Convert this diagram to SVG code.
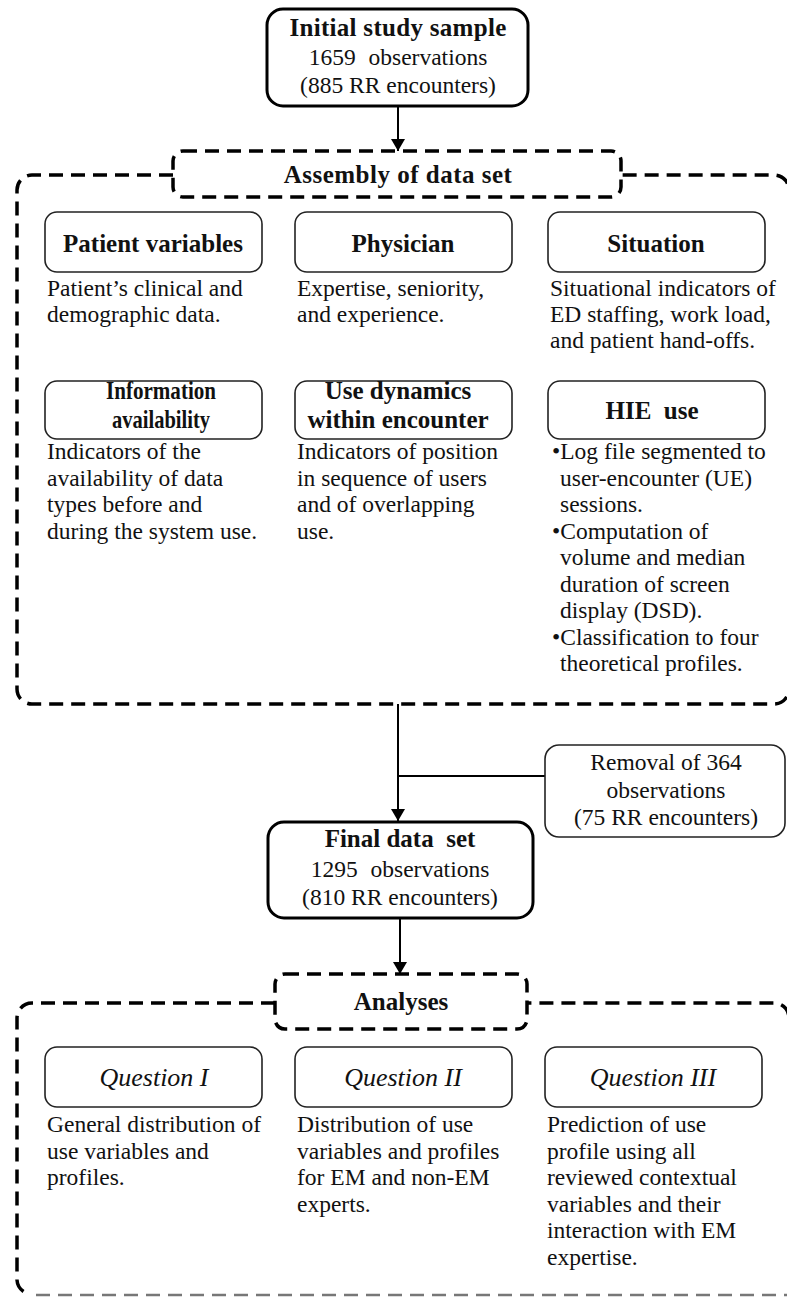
<svg xmlns="http://www.w3.org/2000/svg" width="787" height="1303" viewBox="0 0 787 1303">
<defs>
<marker id="ah" viewBox="0 0 12 14" refX="12" refY="7" markerWidth="12" markerHeight="14" markerUnits="userSpaceOnUse" orient="auto">
<path d="M0,0 L12,7 L0,14 Z" fill="#000"/>
</marker>
<style>
text{font-family:"Liberation Serif","Times New Roman",serif;fill:#111;}
.t{font-size:25px;font-weight:bold;text-anchor:middle;}
.r{font-size:23.5px;text-anchor:middle;}
.d{font-size:23.5px;}
.q{font-size:26px;font-style:italic;text-anchor:middle;}
.main{fill:#fff;stroke:#000;stroke-width:3;}
.sub{fill:#fff;stroke:#222;stroke-width:1.6;}
.dash{fill:none;stroke:#000;stroke-width:3.5;stroke-dasharray:14 8;}
.dashlab{fill:#fff;stroke:#000;stroke-width:3.5;stroke-dasharray:14 8;}
.dashfaint{fill:none;stroke:#777;stroke-width:2.5;stroke-dasharray:14 8;}
.line{fill:none;stroke:#000;stroke-width:2;}
</style>
</defs>
<rect width="787" height="1303" fill="#fff"/>

<g id="connectors">
<line class="line" x1="398" y1="106" x2="398" y2="151" marker-end="url(#ah)"/>
<line class="line" x1="398" y1="704" x2="398" y2="821" marker-end="url(#ah)"/>
<line class="line" x1="545" y1="776" x2="398" y2="776"/>
<line class="line" x1="400" y1="918" x2="400" y2="974" marker-end="url(#ah)"/>
</g>

<g id="initial">
<rect class="main" x="267" y="9" width="261" height="97" rx="16"/>
<text class="t" x="398" y="36" letter-spacing="0.3">Initial study sample</text>
<text class="r" x="398" y="65" word-spacing="7">1659 observations</text>
<text class="r" x="398" y="93">(885 RR encounters)</text>
</g>

<g id="assembly">
<path class="dash" d="M173,175 H32 A15,15 0 0 0 17,190 V689 A15,15 0 0 0 32,704 H774 A15,15 0 0 0 789,689 V190 A15,15 0 0 0 774,175 H621"/>
<rect class="dashlab" x="173" y="151" width="448" height="46" rx="10"/>
<text class="t" x="398" y="183" letter-spacing="0.5">Assembly of data set</text>
</g>

<g id="patient">
<rect class="sub" x="45" y="212" width="217" height="60" rx="12"/>
<text class="t" x="153" y="252">Patient variables</text>
<text class="d" x="47" y="296">Patient’s clinical and</text>
<text class="d" x="47" y="322">demographic data.</text>
</g>

<g id="physician">
<rect class="sub" x="295" y="212" width="217" height="60" rx="12"/>
<text class="t" x="403" y="252">Physician</text>
<text class="d" x="297" y="296">Expertise, seniority,</text>
<text class="d" x="297" y="322">and experience.</text>
</g>

<g id="situation">
<rect class="sub" x="548" y="212" width="217" height="60" rx="12"/>
<text class="t" x="656" y="252">Situation</text>
<text class="d" x="550" y="296" font-size="24">Situational indicators of</text>
<text class="d" x="550" y="322" font-size="24">ED staffing, work load,</text>
<text class="d" x="550" y="348" font-size="24">and patient hand-offs.</text>
</g>

<g id="information">
<rect class="sub" x="45" y="381" width="217" height="58" rx="12"/>
<text class="t" x="161" y="399" font-size="24" textLength="110" lengthAdjust="spacingAndGlyphs">Information</text>
<text class="t" x="161" y="428" font-size="24" textLength="98" lengthAdjust="spacingAndGlyphs">availability</text>
<text class="d" x="47" y="459">Indicators of the</text>
<text class="d" x="47" y="485.5">availability of data</text>
<text class="d" x="47" y="512">types before and</text>
<text class="d" x="47" y="538.5">during the system use.</text>
</g>

<g id="dynamics">
<rect class="sub" x="295" y="381" width="217" height="58" rx="12"/>
<text class="t" x="398" y="399">Use dynamics</text>
<text class="t" x="398" y="428">within encounter</text>
<text class="d" x="297" y="459">Indicators of position</text>
<text class="d" x="297" y="485.5">in sequence of users</text>
<text class="d" x="297" y="512">and of overlapping</text>
<text class="d" x="297" y="538.5">use.</text>
</g>

<g id="hie">
<rect class="sub" x="548" y="381" width="217" height="58" rx="12"/>
<text class="t" x="652" y="419" xml:space="preserve">HIE  use</text>
<text class="d" x="552" y="459">•Log file segmented to</text>
<text class="d" x="560" y="485.5">user-encounter (UE)</text>
<text class="d" x="560" y="512">sessions.</text>
<text class="d" x="552" y="538.5">•Computation of</text>
<text class="d" x="560" y="565">volume and median</text>
<text class="d" x="560" y="591.5">duration of screen</text>
<text class="d" x="560" y="618">display (DSD).</text>
<text class="d" x="552" y="644.5">•Classification to four</text>
<text class="d" x="560" y="671">theoretical profiles.</text>
</g>

<g id="removal">
<rect class="sub" x="545" y="745" width="240" height="92" rx="14"/>
<text class="r" x="666" y="770">Removal of 364</text>
<text class="r" x="666" y="798">observations</text>
<text class="r" x="666" y="825">(75 RR encounters)</text>
</g>

<g id="final">
<rect class="main" x="268" y="822" width="265" height="96" rx="16"/>
<text class="t" x="400" y="847" xml:space="preserve">Final data  set</text>
<text class="r" x="400" y="877" word-spacing="7">1295 observations</text>
<text class="r" x="400" y="905">(810 RR encounters)</text>
</g>

<g id="analyses">
<path class="dash" d="M275,1003 H32 A15,15 0 0 0 17,1018 V1280 A15,15 0 0 0 30,1294"/>
<path class="dashfaint" d="M36,1295 H787"/>
<path class="dash" d="M789,1280 V1018 A15,15 0 0 0 774,1003 H527"/>
<rect class="dashlab" x="275" y="974" width="252" height="55" rx="10"/>
<text class="t" x="401" y="1010" font-size="23">Analyses</text>
</g>

<g id="q1">
<rect class="sub" x="45" y="1047" width="217" height="60" rx="12"/>
<text class="q" x="154" y="1086">Question I</text>
<text class="d" x="47" y="1132">General distribution of</text>
<text class="d" x="47" y="1158.5">use variables and</text>
<text class="d" x="47" y="1185">profiles.</text>
</g>

<g id="q2">
<rect class="sub" x="295" y="1047" width="217" height="60" rx="12"/>
<text class="q" x="403" y="1086">Question II</text>
<text class="d" x="297" y="1132">Distribution of use</text>
<text class="d" x="297" y="1158.5">variables and profiles</text>
<text class="d" x="297" y="1185">for EM and non-EM</text>
<text class="d" x="297" y="1211.5">experts.</text>
</g>

<g id="q3">
<rect class="sub" x="545" y="1047" width="217" height="60" rx="12"/>
<text class="q" x="653" y="1086">Question III</text>
<text class="d" x="547" y="1132">Prediction of use</text>
<text class="d" x="547" y="1158.5">profile using all</text>
<text class="d" x="547" y="1185">reviewed contextual</text>
<text class="d" x="547" y="1211.5">variables and their</text>
<text class="d" x="547" y="1238">interaction with EM</text>
<text class="d" x="547" y="1264.5">expertise.</text>
</g>
</svg>
